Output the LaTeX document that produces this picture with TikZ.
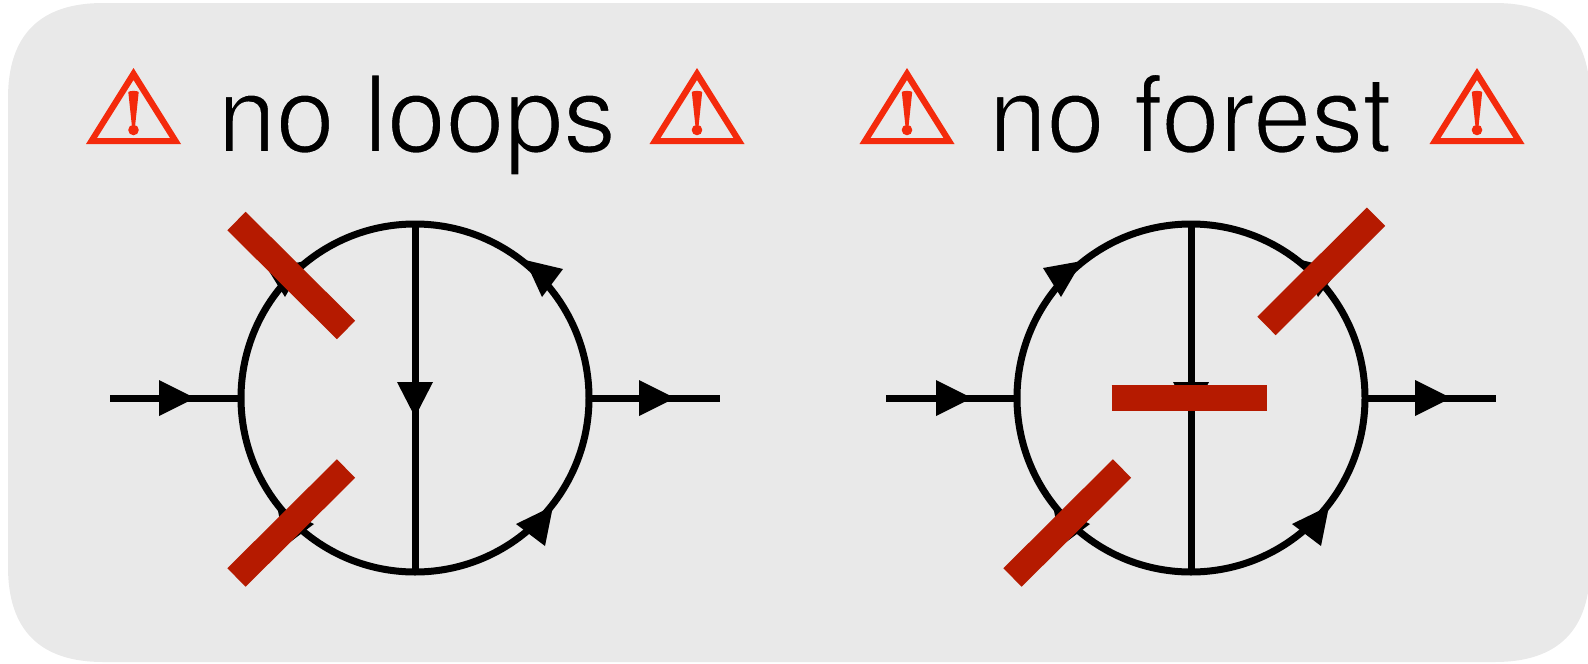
\documentclass[tikz,border=0pt]{standalone}
\usepackage{fontspec}
\setmainfont{TeX Gyre Heros}
\newfontface\loopsfont[FakeStretch=0.99]{TeX Gyre Heros}
\newfontface\forestfont[FakeStretch=0.978]{TeX Gyre Heros}
\definecolor{panel}{HTML}{E9E9E9}
\definecolor{barred}{HTML}{B51A00}
\definecolor{warnred}{HTML}{F42A0C}
\newcommand{\thintext}[1]{\special{pdf:code q 2 Tr 1.8 w 0.914 0.914 0.914 RG}#1\special{pdf:code Q}}
\tikzset{
  x=1pt,y=-1pt,
  wire/.style={draw=black,line width=7pt},
  loopring/.style={circle,draw=black,line width=7pt,minimum size=348pt,inner sep=0pt,outer sep=0pt},
  head/.style={fill=black,line join=round},
  cutbar/.style={draw=barred,line width=26pt},
  caption/.style={anchor=base west,inner sep=0pt,outer sep=0pt},
  warning/.pic={
    \fill[warnred,even odd rule] (0,-76) -- (-47.5,0) -- (47.5,0) -- cycle
      (0,-64) -- (-36.5,-6) -- (36.5,-6) -- cycle;
    \fill[warnred] (-5.2,-52) .. controls (-4,-53.5) and (4,-53.5) .. (5.2,-52) -- (1.7,-19) -- (-1.7,-19) -- cycle;
    \fill[warnred] (0,-14) circle (5.3);
  }
}
\begin{document}
\begin{tikzpicture}
\useasboundingbox (0,0) rectangle (1588,664);
\fill[panel] (8,98) .. controls (8,35) and (40,3) .. (103,3) -- (1495,3)
  .. controls (1558,3) and (1590,35) .. (1590,98) -- (1590,567)
  .. controls (1590,630) and (1558,662) .. (1495,662) -- (103,662)
  .. controls (40,662) and (8,630) .. (8,567) -- cycle;

\node[caption] (title1) at (217.5,152) {\loopsfont\fontsize{106.5}{116}\selectfont\thintext{no loops}};
\node[caption] (title2) at (989,152) {\forestfont\fontsize{106.5}{116}\selectfont\thintext{no forest}};
\pic at (133.5,144) {warning};
\pic at (697,144) {warning};
\pic at (907,144) {warning};
\pic at (1477,144) {warning};

% left diagram
\node[loopring] (c1) at (415,398) {};
\coordinate (in1) at (110,398);
\coordinate (out1) at (720,398);
\draw[wire] (in1) -- (c1.west);
\draw[wire] (c1.east) -- (out1);
\draw[wire] (c1.north) -- (c1.south);
\fill[head] (159,380) -- (195,398) -- (159,416) -- cycle;
\fill[head] (639,380) -- (675,398) -- (639,416) -- cycle;
\fill[head] (397,382) -- (433,382) -- (415,417) -- cycle;
\fill[head] (525,260) -- (563,269) -- (542,297) -- cycle;
\fill[head] (553,506) -- (545,546) -- (516,524) -- cycle;
\fill[head] (306,261) -- (267,268) -- (285,297) -- cycle;
\fill[head] (277,506) -- (285,546) -- (314,524) -- cycle;
\coordinate (b1a) at (236.5,221);
\coordinate (b1b) at (346,330);
\coordinate (b2a) at (346,468.5);
\coordinate (b2b) at (236.5,577.5);
\draw[cutbar] (b1a) -- (b1b);
\draw[cutbar] (b2a) -- (b2b);

% right diagram
\node[loopring] (c2) at (1191,398) {};
\coordinate (in2) at (886,398);
\coordinate (out2) at (1496,398);
\draw[wire] (in2) -- (c2.west);
\draw[wire] (c2.east) -- (out2);
\draw[wire] (c2.north) -- (c2.south);
\fill[head] (936,380) -- (972,398) -- (936,416) -- cycle;
\fill[head] (1415,380) -- (1451,398) -- (1415,416) -- cycle;
\fill[head] (1173,382) -- (1209,382) -- (1191,417) -- cycle;
\fill[head] (1301,260) -- (1339,269) -- (1318,297) -- cycle;
\fill[head] (1329,506) -- (1321,546) -- (1292,524) -- cycle;
\fill[head] (1082,261) -- (1043,268) -- (1061,297) -- cycle;
\fill[head] (1053,506) -- (1061,546) -- (1090,524) -- cycle;
\coordinate (b3a) at (1376,216.7);
\coordinate (b3b) at (1266.5,326);
\coordinate (b4a) at (1111.7,398);
\coordinate (b4b) at (1266.7,398);
\coordinate (b5a) at (1122,468.5);
\coordinate (b5b) at (1012.5,577.5);
\draw[cutbar] (b3a) -- (b3b);
\draw[cutbar] (b4a) -- (b4b);
\draw[cutbar] (b5a) -- (b5b);
\end{tikzpicture}
\end{document}
